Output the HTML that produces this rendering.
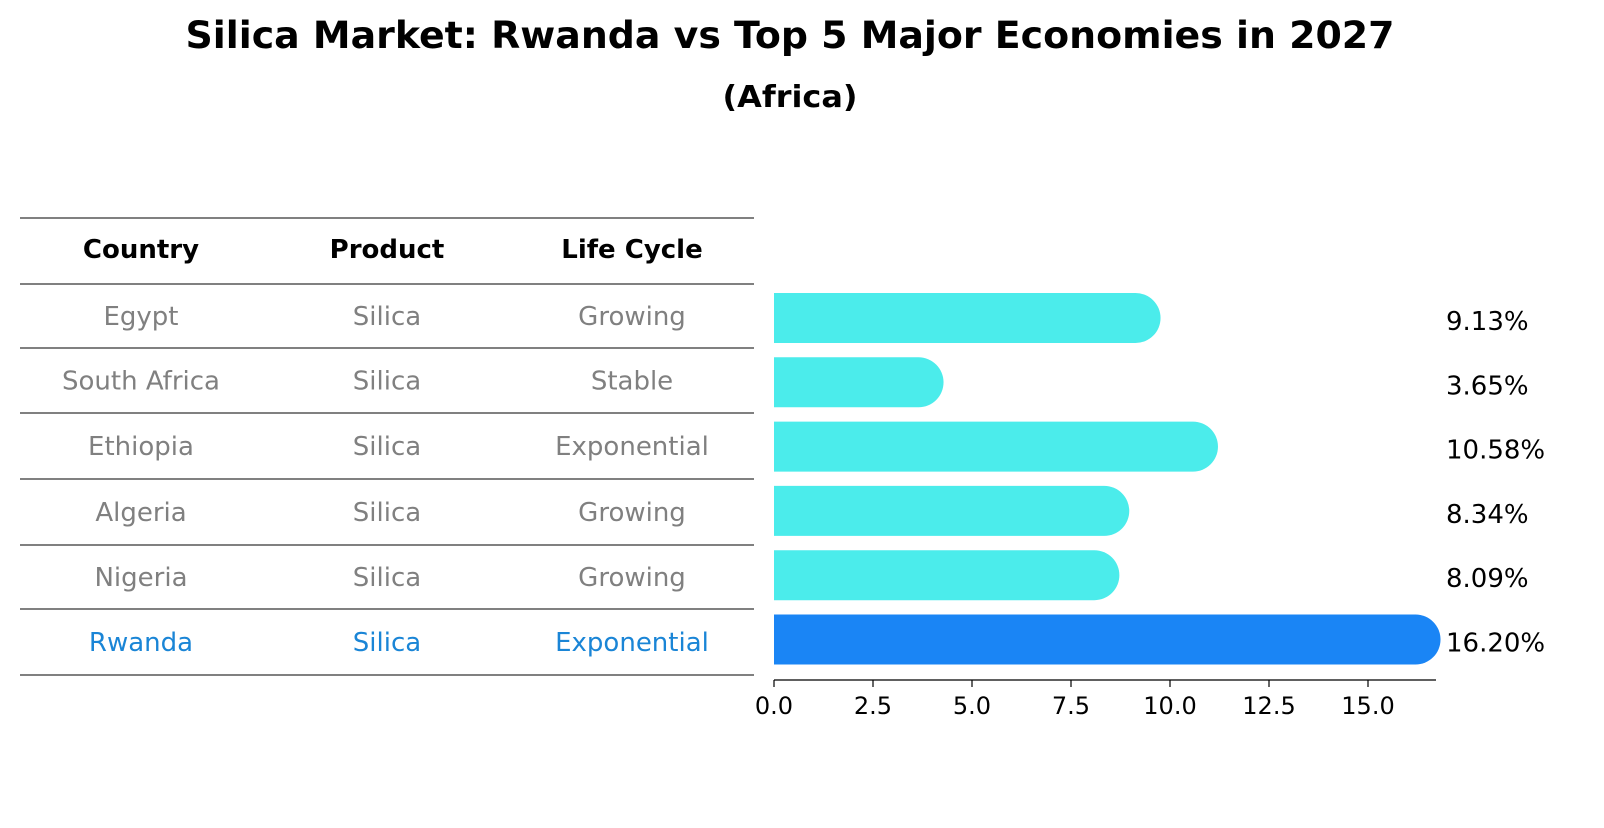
<!DOCTYPE html>
<html><head><meta charset="utf-8"><style>
body{margin:0;background:#fff;font-family:"Liberation Sans","DejaVu Sans",sans-serif}
svg text{font-family:"DejaVu Sans","Liberation Sans",sans-serif}
</style></head><body>
<svg id="c" width="1604" height="823" xmlns="http://www.w3.org/2000/svg">
<text x="790" y="48" text-anchor="middle" font-size="37" font-weight="bold" textLength="1209" lengthAdjust="spacingAndGlyphs">Silica Market: Rwanda vs Top 5 Major Economies in 2027</text>
<text x="790" y="107" text-anchor="middle" font-size="30" font-weight="bold" textLength="135" lengthAdjust="spacingAndGlyphs">(Africa)</text>
<g id="tbl"></g>
<g id="bars"></g>
</svg>
<script>
const countries=["Egypt","South Africa","Ethiopia","Algeria","Nigeria","Rwanda"];
const products=["Silica","Silica","Silica","Silica","Silica","Silica"];
const cycles=["Growing","Stable","Exponential","Growing","Growing","Exponential"];
const values=[9.13,3.65,10.58,8.34,8.09,16.20];
const ticks=[0,2.5,5,7.5,10,12.5,15];
const NS="http://www.w3.org/2000/svg";
function mk(p,t,a,txt){const e=document.createElementNS(NS,t);for(const k in a)e.setAttribute(k,a[k]);if(txt!==undefined)e.textContent=txt;p.appendChild(e);return e;}
const x=v=>774+v*39.6;
const rowY=i=>318+i*64.3;
const tbl=document.getElementById('tbl'),bars=document.getElementById('bars');
const cols=[141,387,632];
const lineYs=[218,284,348,413,479,545,609,675];
lineYs.forEach(y=>{const l=mk(tbl,'line',{x1:20,x2:754,y1:y,y2:y,stroke:'#000','stroke-width':1});

});
["Country","Product","Life Cycle"].forEach((h,j)=>{const t=mk(tbl,'text',{x:cols[j],y:258,'text-anchor':'middle','font-size':26,'font-weight':'bold'},h);

});
countries.forEach((c,i)=>{
 const col=i===countries.length-1?'#1a85d6':'#808080';
 [c,products[i],cycles[i]].forEach((s,j)=>{const t=mk(tbl,'text',{x:cols[j],y:(lineYs[i+1]+lineYs[i+2])/2+9,'text-anchor':'middle','font-size':26,fill:col},s);
 
 });
 const cy=rowY(i),r=25,xe=x(values[i]);
 const fill=i===countries.length-1?'#1a85f5':'#4beceb';
 const p=mk(bars,'path',{d:`M774 ${cy-r}H${xe}A${r} ${r} 0 0 1 ${xe} ${cy+r}H774Z`,fill:fill});
 
 
 const t=mk(bars,'text',{x:1446,y:cy+12,'font-size':26},values[i].toFixed(2)+'%');
 
 
});
const ax=mk(bars,'line',{x1:774,x2:1436,y1:680,y2:680,stroke:'#000','stroke-width':1.3});


ticks.forEach(v=>{const l=mk(bars,'line',{x1:x(v),x2:x(v),y1:680,y2:687,stroke:'#000','stroke-width':1.2});


const t=mk(bars,'text',{x:x(v),y:714,'text-anchor':'middle','font-size':24},v.toFixed(1));

});
</script>
</body></html>
